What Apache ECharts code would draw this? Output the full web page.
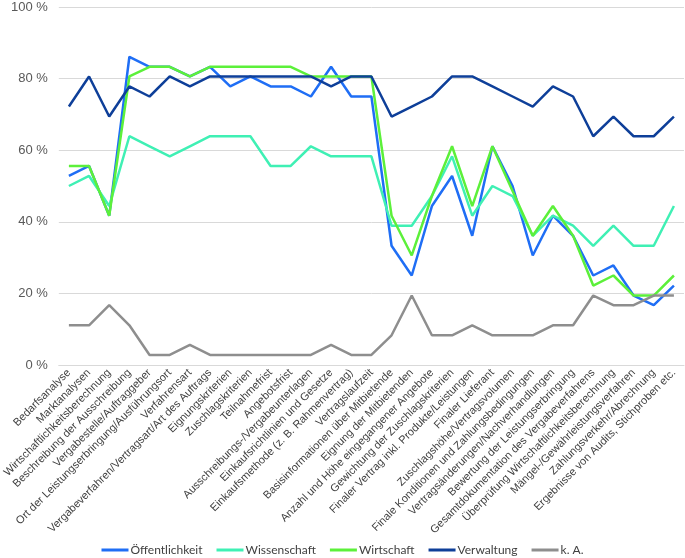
<!DOCTYPE html>
<html>
<head>
<meta charset="utf-8">
<script src="https://cdn.jsdelivr.net/npm/echarts@6/dist/echarts.min.js"></script>
<style>
  html, body { margin: 0; padding: 0; background: #fff; }
  #chart { width: 685px; height: 558px; }
</style>
</head>
<body>
<div id="chart"></div>
<script>
var categories = ['Bedarfsanalyse', 'Marktanalysen', 'Wirtschaftlichkeitsberechnung', 'Beschreibung der Ausschreibung',
  'Vergabestelle/Auftraggeber', 'Ort der Leistungserbringung/Ausführungsort', 'Verfahrensart',
  'Vergabeverfahren/Vertragsart/Art des Auftrags', 'Eignungskriterien', 'Zuschlagskriterien', 'Teilnahmefrist',
  'Angebotsfrist', 'Ausschreibungs-/Vergabeunterlagen', 'Einkaufsrichtlinien und Gesetze',
  'Einkaufsmethode (z. B. Rahmenvertrag)', 'Vertragslaufzeit', 'Basisinformationen über Mitbietende',
  'Eignung der Mitbietenden', 'Anzahl und Höhe eingegangener Angebote', 'Gewichtung der Zuschlagskriterien',
  'Finaler Vertrag inkl. Produkte/Leistungen', 'Finaler Lieferant', 'Zuschlagshöhe/Vertragsvolumen',
  'Finale Konditionen und Zahlungsbedingungen', 'Vertragsänderungen/Nachverhandlungen',
  'Bewertung der Leistungserbringung', 'Gesamtdokumentation des Vergabeverfahrens',
  'Überprüfung Wirtschaftlichkeitsberechnung', 'Mängel-/Gewährleistungsverfahren',
  'Zahlungsverkehr/Abrechnung', 'Ergebnisse von Audits, Stichproben etc.'];

var oeffentlichkeit = [52.8, 55.6, 41.7, 86.1, 83.3, 83.3, 80.6, 83.3, 77.8, 80.6, 77.8, 77.8, 75, 83.3, 75, 75,
  33.3, 25, 44.4, 52.8, 36.1, 61.1, 50, 30.6, 41.7, 36.1, 25, 27.8, 19.4, 16.7, 22.2];
var wissenschaft = [50, 52.8, 44.4, 63.9, 61.1, 58.3, 61.1, 63.9, 63.9, 63.9, 55.6, 55.6, 61.1, 58.3, 58.3, 58.3,
  38.9, 38.9, 47.2, 58.3, 41.7, 50, 47.2, 36.1, 41.7, 38.9, 33.3, 38.9, 33.3, 33.3, 44.4];
var wirtschaft = [55.6, 55.6, 41.7, 80.6, 83.3, 83.3, 80.6, 83.3, 83.3, 83.3, 83.3, 83.3, 80.6, 80.6, 80.6, 80.6,
  41.7, 30.6, 47.2, 61.1, 44.4, 61.1, 48.6, 36.1, 44.4, 36.1, 22.2, 25, 19.4, 19.4, 25];
var verwaltung = [72.2, 80.6, 69.4, 77.8, 75, 80.6, 77.8, 80.6, 80.6, 80.6, 80.6, 80.6, 80.6, 77.8, 80.6, 80.6,
  69.4, 72.2, 75, 80.6, 80.6, 77.8, 75, 72.2, 77.8, 75, 63.9, 69.4, 63.9, 63.9, 69.4];
var keineAngabe = [11.1, 11.1, 16.7, 11.1, 2.8, 2.8, 5.6, 2.8, 2.8, 2.8, 2.8, 2.8, 2.8, 5.6, 2.8, 2.8,
  8.3, 19.4, 8.3, 8.3, 11.1, 8.3, 8.3, 8.3, 11.1, 11.1, 19.4, 16.7, 16.7, 19.4, 19.4];

var seriesNames = ['Öffentlichkeit', 'Wissenschaft', 'Wirtschaft', 'Verwaltung', 'k. A.'];
var seriesData = [oeffentlichkeit, wissenschaft, wirtschaft, verwaltung, keineAngabe];
var colors = ['#1f6ef5', '#3ff0b4', '#5cf03a', '#0e3f99', '#8e8e8e'];

var chart = echarts.init(document.getElementById('chart'));
chart.setOption({
  backgroundColor: '#fff',
  animation: false,
  color: colors,
  grid: { left: 51, right: 1, top: 7, bottom: 193 },
  legend: {
    bottom: -3, left: 'center',
    icon: 'rect', itemWidth: 27, itemHeight: 3, itemGap: 14,
    textStyle: { color: '#404040', fontSize: 12, fontFamily: 'Lato', padding: [0, 0, 0, -3] },
    data: seriesNames
  },
  xAxis: {
    type: 'category',
    data: categories,
    boundaryGap: true,
    axisTick: { show: false },
    axisLine: { show: true, lineStyle: { color: '#d9d9d9', width: 1 } },
    axisLabel: {
      interval: 0, rotate: 45, margin: 6,
      color: '#404040', fontSize: 11, fontFamily: 'Liberation Sans'
    }
  },
  yAxis: {
    type: 'value',
    min: 0, max: 100, interval: 20,
    axisLine: { show: false },
    axisTick: { show: false },
    splitLine: { lineStyle: { color: '#d9d9d9', width: 1 } },
    axisLabel: { formatter: '{value} %', color: '#595959', fontSize: 13, fontFamily: 'Liberation Sans', margin: 11 }
  },
  series: seriesNames.map(function (name, i) {
    return {
      name: name,
      type: 'line',
      data: seriesData[i],
      showSymbol: false,
      symbol: 'none',
      lineStyle: { width: 2.5, color: colors[i] }
    };
  })
});
</script>
</body>
</html>
